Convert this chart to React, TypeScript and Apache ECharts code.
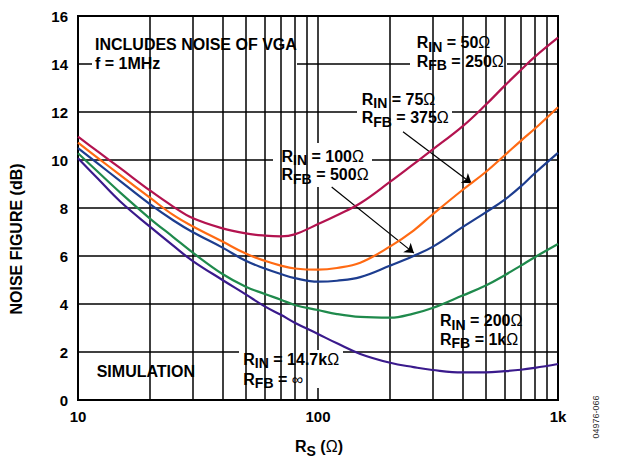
import React, { useEffect, useRef } from 'react';
import * as echarts from 'echarts';

// Source resistance values (ohms)
const rs = [10, 12, 15, 20, 25, 30, 40, 50, 60, 70, 80, 100, 120, 150, 200, 250, 300, 400, 500, 600, 700, 800, 1000];
// Noise figure (dB) per configuration
const nfRin50 = [10.97, 10.38, 9.66, 8.72, 8.05, 7.58, 7.15, 6.94, 6.85, 6.82, 6.9, 7.33, 7.7, 8.2, 9.1, 9.83, 10.43, 11.4, 12.3, 13.1, 13.75, 14.3, 15.1];
const nfRin75 = [10.72, 10.11, 9.37, 8.42, 7.7, 7.24, 6.6, 6.1, 5.8, 5.6, 5.48, 5.43, 5.5, 5.72, 6.4, 7.06, 7.73, 8.75, 9.5, 10.2, 10.8, 11.3, 12.2];
const nfRin100 = [10.49, 9.88, 9.12, 8.15, 7.48, 7.0, 6.35, 5.8, 5.48, 5.25, 5.08, 4.93, 4.97, 5.12, 5.6, 6.0, 6.38, 7.2, 7.82, 8.35, 8.9, 9.45, 10.3];
const nfRin200 = [10.28, 9.54, 8.64, 7.55, 6.78, 6.15, 5.25, 4.72, 4.42, 4.18, 3.96, 3.75, 3.58, 3.46, 3.43, 3.6, 3.83, 4.35, 4.77, 5.2, 5.6, 5.95, 6.5];
const nfRin14k7 = [10.07, 9.26, 8.27, 7.21, 6.42, 5.8, 5.0, 4.4, 3.9, 3.55, 3.22, 2.75, 2.36, 1.92, 1.55, 1.37, 1.25, 1.15, 1.15, 1.2, 1.26, 1.34, 1.5];

// Minor logarithmic grid positions
const minorGridX = [20, 30, 40, 50, 60, 70, 80, 90, 200, 300, 400, 500, 600, 700, 800, 900];
// Axis ranges
const xRange = [10, 1000];
const yRange = [0, 16];
const yStep = 2;

// Arrow annotations (data coords): [fromR, fromNF, toR, toNF]
const arrow75 = [226, 11.18, 436, 9.03];
const arrow100 = [114, 8.875, 251, 6.12];

const FONT = '"Liberation Sans", Arial, Helvetica, sans-serif';

type Kind = 'r' | 's' | 'o';
const kindStyle: Record<Kind, { size: number; weight: string; dy: number }> = {
  r: { size: 16, weight: 'bold', dy: 0 },
  s: { size: 14, weight: 'bold', dy: 4.2 },
  o: { size: 16, weight: 'normal', dy: 0 },
};

let ctx: CanvasRenderingContext2D | null = null;
function measure(text: string, k: Kind) {
  if (!ctx) ctx = document.createElement('canvas').getContext('2d');
  const st = kindStyle[k];
  ctx!.font = `${st.weight} ${st.size}px ${FONT}`;
  return ctx!.measureText(text).width;
}

function subText(x: number, y: number, parts: [string, Kind][]) {
  let off = 0;
  const children = parts.map(([t, k]) => {
    const st = kindStyle[k];
    const el = {
      type: 'text',
      x: off,
      y: st.dy,
      z: 6,
      silent: true,
      style: { text: t, fontFamily: FONT, fontSize: st.size, fontWeight: st.weight, fill: '#000', align: 'left', verticalAlign: 'middle' },
    };
    off += measure(t, k);
    return el;
  });
  return { type: 'group', x, y, z: 6, silent: true, children };
}

function box(x: number, y: number, w: number, h: number) {
  return { type: 'rect', z: 5, silent: true, shape: { x, y, width: w, height: h }, style: { fill: '#fff' } };
}

function plainText(x: number, y: number, text: string) {
  return {
    type: 'text',
    x,
    y,
    z: 6,
    silent: true,
    style: { text, fontFamily: FONT, fontSize: 16, fontWeight: 'bold', fill: '#000', verticalAlign: 'middle', align: 'left' },
  };
}

const colors = ['#b3134f', '#ff6a13', '#1d3d8f', '#1f8a4c', '#3a1a8c'];
const seriesData = [nfRin50, nfRin75, nfRin100, nfRin200, nfRin14k7];

export default function App() {
  const ref = useRef<HTMLDivElement>(null);
  useEffect(() => {
    if (!ref.current) return;
    const chart = echarts.init(ref.current, undefined, { renderer: 'svg' });
    const lines = seriesData.map((arr, k) => ({
      type: 'line',
      data: rs.map((r, i) => [r, arr[i]]),
      showSymbol: false,
      symbol: 'none',
      smooth: 0.4,
      z: 10,
      silent: true,
      lineStyle: { color: colors[k], width: 2.2 },
      emphasis: { disabled: true },
    }));
    const option: any = {
      animation: false,
      backgroundColor: '#fff',
      grid: { left: 78, right: 68, top: 16, bottom: 58, show: true, borderColor: '#000', borderWidth: 2, backgroundColor: 'transparent' },
      xAxis: {
        type: 'log',
        logBase: 10,
        min: xRange[0],
        max: xRange[1],
        axisLine: { show: false },
        axisTick: { show: false },
        splitLine: { show: true, lineStyle: { color: '#000', width: 1.5 } },
        axisLabel: {
          margin: 9,
          fontSize: 15,
          fontWeight: 'bold',
          fontFamily: FONT,
          color: '#000',
          formatter: (v: number) => (v >= 1000 ? '1k' : String(v)),
        },
      },
      yAxis: {
        type: 'value',
        min: yRange[0],
        max: yRange[1],
        interval: yStep,
        axisLine: { show: false },
        axisTick: { show: false },
        splitLine: { show: true, lineStyle: { color: '#000', width: 1.5 } },
        axisLabel: { margin: 10, fontSize: 15, fontWeight: 'bold', fontFamily: FONT, color: '#000' },
      },
      series: [
        {
          type: 'line',
          data: [],
          z: 1,
          silent: true,
          markLine: {
            silent: true,
            symbol: 'none',
            animation: false,
            label: { show: false },
            lineStyle: { color: '#000', width: 1.5, type: 'solid' },
            emphasis: { disabled: true },
            data: minorGridX.map((v) => ({ xAxis: v })),
          },
        },
        ...lines,
        {
          type: 'line',
          data: [],
          z: 12,
          silent: true,
          markLine: {
            silent: true,
            symbol: ['none', 'arrow'],
            symbolSize: 9,
            animation: false,
            label: { show: false },
            lineStyle: { color: '#000', width: 1.2, type: 'solid' },
            emphasis: { disabled: true },
            data: [arrow75, arrow100].map((a) => [{ coord: [a[0], a[1]] }, { coord: [a[2], a[3]] }]),
          },
        },
      ],
      graphic: [
        box(92, 33, 205, 39),
        plainText(95, 44, 'INCLUDES NOISE OF VGA'),
        plainText(95, 63.5, 'f = 1MHz'),
        box(410, 25, 97, 50),
        subText(416.7, 42.5, [['R', 'r'], ['IN', 's'], [' = 50', 'r'], ['Ω', 'o']]),
        subText(416.7, 61, [['R', 'r'], ['FB', 's'], [' = 250', 'r'], ['Ω', 'o']]),
        box(357, 85, 95, 47),
        subText(361.7, 99.2, [['R', 'r'], ['IN', 's'], [' = 75', 'r'], ['Ω', 'o']]),
        subText(361.7, 117.5, [['R', 'r'], ['FB', 's'], [' = 375', 'r'], ['Ω', 'o']]),
        box(273, 143, 99, 44),
        subText(281.5, 156, [['R', 'r'], ['IN', 's'], [' = 100', 'r'], ['Ω', 'o']]),
        subText(281.5, 174.3, [['R', 'r'], ['FB', 's'], [' = 500', 'r'], ['Ω', 'o']]),
        box(435, 310, 93, 40),
        subText(440, 320.8, [['R', 'r'], ['IN', 's'], [' = 200', 'r'], ['Ω', 'o']]),
        subText(440, 339, [['R', 'r'], ['FB', 's'], [' = 1k', 'r'], ['Ω', 'o']]),
        box(239, 350, 104, 38),
        subText(243.3, 359, [['R', 'r'], ['IN', 's'], [' = 14.7k', 'r'], ['Ω', 'o']]),
        subText(243.3, 379, [['R', 'r'], ['FB', 's'], [' = ', 'r'], ['∞', 'o']]),
        box(92, 358, 108, 25),
        plainText(96.7, 371, 'SIMULATION'),
        {
          type: 'text',
          x: 16,
          y: 239,
          rotation: Math.PI / 2,
          silent: true,
          style: { text: 'NOISE FIGURE (dB)', fontFamily: FONT, fontSize: 16, fontWeight: 'bold', fill: '#000', align: 'center', verticalAlign: 'middle' },
        },
        subText(295, 446.5, [['R', 'r'], ['S', 's'], [' (', 'r'], ['Ω', 'o'], [')', 'r']]),
        {
          type: 'text',
          x: 596,
          y: 417,
          rotation: Math.PI / 2,
          silent: true,
          style: { text: '04976-066', fontFamily: FONT, fontSize: 9, fill: '#333', align: 'center', verticalAlign: 'middle' },
        },
      ],
    };
    chart.setOption(option);
    return () => chart.dispose();
  }, []);
  return <div ref={ref} style={{ position: 'absolute', left: 0, top: 0, width: 626, height: 458, background: '#fff' }} />;
}
